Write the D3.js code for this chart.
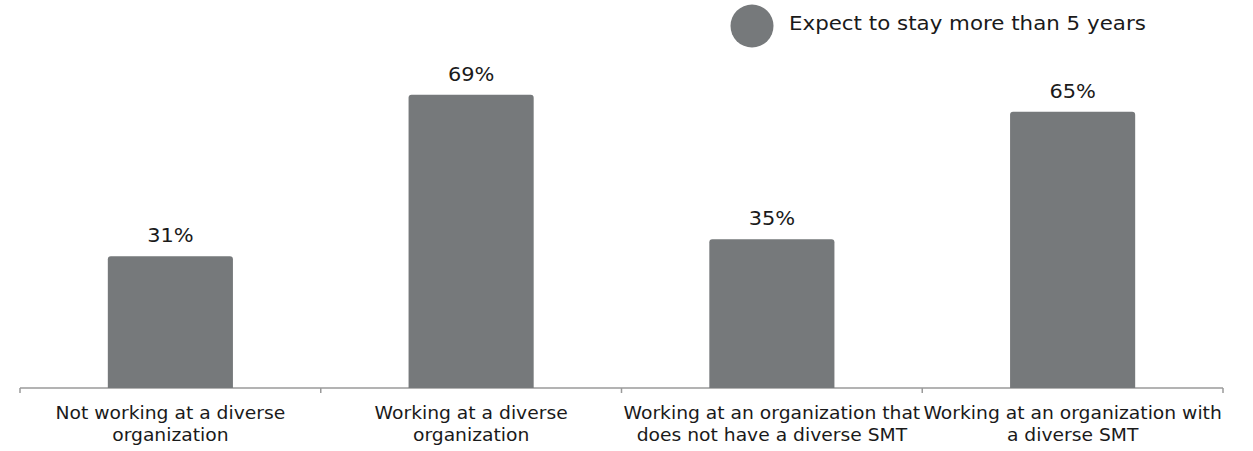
<!DOCTYPE html>
<html>
<head>
<meta charset="utf-8">
<script src="https://cdn.jsdelivr.net/npm/d3@7"></script>
<style>
  html, body { margin: 0; padding: 0; background: #fff; }
  svg { display: block; }
  text { font-family: "DejaVu Sans", Verdana, sans-serif; fill: #1a1a1a; }
</style>
</head>
<body>
<svg id="chart" width="1253" height="451"></svg>
<script>
// Share of respondents expecting to stay more than 5 years, by workplace diversity
const categories = [
  ["Not working at a diverse", "organization"],
  ["Working at a diverse", "organization"],
  ["Working at an organization that", "does not have a diverse SMT"],
  ["Working at an organization with", "a diverse SMT"]
];
const values = [31, 69, 35, 65];
const seriesName = "Expect to stay more than 5 years";
const barColor = "#76797b";

const svg = d3.select("#chart");
const margin = { left: 20, right: 30, top: 48, bottom: 63 };
const width = 1253, height = 451;

const x = d3.scaleBand()
  .domain(d3.range(categories.length))
  .range([margin.left, width - margin.right])
  .paddingInner(0.584)
  .paddingOuter(0.292);

const y = d3.scaleLinear()
  .domain([0, 80])
  .range([height - margin.bottom, margin.top]);

// Axis line with tick marks at band boundaries
const base = y(0);
const x0 = margin.left, x1 = width - margin.right;
const axis = svg.append("g");
axis.append("line")
  .attr("x1", x0).attr("x2", x1)
  .attr("y1", base).attr("y2", base)
  .attr("stroke", "#9a9a9a").attr("stroke-width", 1.5);
axis.selectAll("line.tick")
  .data(d3.range(categories.length + 1))
  .join("line")
  .attr("class", "tick")
  .attr("x1", i => x0 + i * (x1 - x0) / categories.length)
  .attr("x2", i => x0 + i * (x1 - x0) / categories.length)
  .attr("y1", base).attr("y2", base + 5)
  .attr("stroke", "#9a9a9a").attr("stroke-width", 1.5);

// Bars
svg.append("g").selectAll("path")
  .data(values)
  .join("path")
  .attr("fill", barColor)
  .attr("d", (d, i) => {
    const bx = x(i), bw = x.bandwidth(), top = y(d), r = 3;
    return `M${bx},${base}V${top + r}Q${bx},${top} ${bx + r},${top}H${bx + bw - r}Q${bx + bw},${top} ${bx + bw},${top + r}V${base}Z`;
  });

// Value labels
svg.append("g").selectAll("text")
  .data(values)
  .join("text")
  .attr("transform", (d, i) => `translate(${x(i) + x.bandwidth() / 2},${y(d) - 14}) scale(1.1,1)`)
  .attr("text-anchor", "middle")
  .attr("font-size", 19)
  .text(d => d + "%");

// Category labels (two lines each)
const labels = svg.append("g").selectAll("text")
  .data(categories)
  .join("text")
  .attr("transform", (d, i) => `translate(${x(i) + x.bandwidth() / 2},${base + 31}) scale(1.04,1)`)
  .attr("text-anchor", "middle")
  .attr("font-size", 18);
labels.selectAll("tspan")
  .data(d => d)
  .join("tspan")
  .attr("x", 0)
  .attr("dy", (d, j) => j === 0 ? 0 : 22)
  .text(d => d);

// Legend
const legend = svg.append("g");
legend.append("circle")
  .attr("cx", 752).attr("cy", 26).attr("r", 21.5)
  .attr("fill", barColor);
legend.append("text")
  .attr("transform", "translate(789,30) scale(1.125,1)")
  .attr("font-size", 19)
  .text(seriesName);
</script>
</body>
</html>
